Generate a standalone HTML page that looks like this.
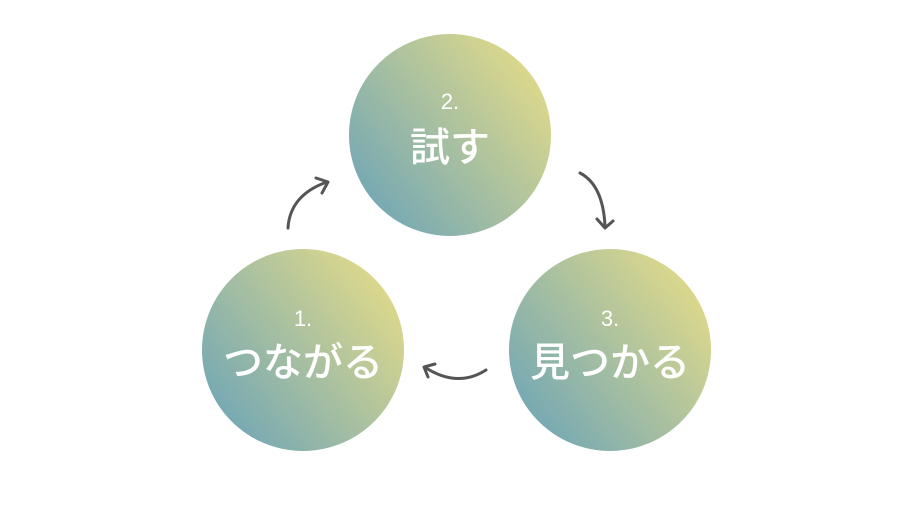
<!DOCTYPE html>
<html><head><meta charset="utf-8"><style>
body{margin:0;width:900px;height:506px;background:#fff;overflow:hidden}
svg text{font-family:"Liberation Sans","Noto Sans CJK JP",sans-serif;fill:#fff;text-anchor:middle;font-weight:500}
</style></head><body>
<svg width="900" height="506" viewBox="0 0 900 506">
<defs>
<linearGradient id="g" x1="0.05" y1="0.85" x2="0.95" y2="0.15">
<stop offset="0.05" stop-color="#77a9b3"/>
<stop offset="0.95" stop-color="#dcd88c"/>
</linearGradient>
</defs>
<circle cx="450" cy="135" r="101" fill="url(#g)"/>
<circle cx="303" cy="350" r="101" fill="url(#g)"/>
<circle cx="610" cy="350" r="101" fill="url(#g)"/>
<text x="450" y="109" font-size="22">2.</text>
<text x="450" y="161" font-size="40">試す</text>
<text x="303" y="326" font-size="22">1.</text>
<text x="303" y="376" font-size="40">つながる</text>
<text x="610" y="326" font-size="22">3.</text>
<text x="610" y="376" font-size="40">見つかる</text>
<g fill="none" stroke="#555" stroke-width="3" stroke-linecap="round" stroke-linejoin="round">
<path d="M288 228 Q290 195 327 182"/>
<path d="M316 178 L328 182 L322 193"/>
<path d="M580 173 Q603 185 605 226"/>
<path d="M597 219 L605 228 L613 221"/>
<path d="M486 370 Q458 388 426 368"/>
<path d="M428 377 L424 367 L435 364"/>
</g>
</svg>
</body></html>
